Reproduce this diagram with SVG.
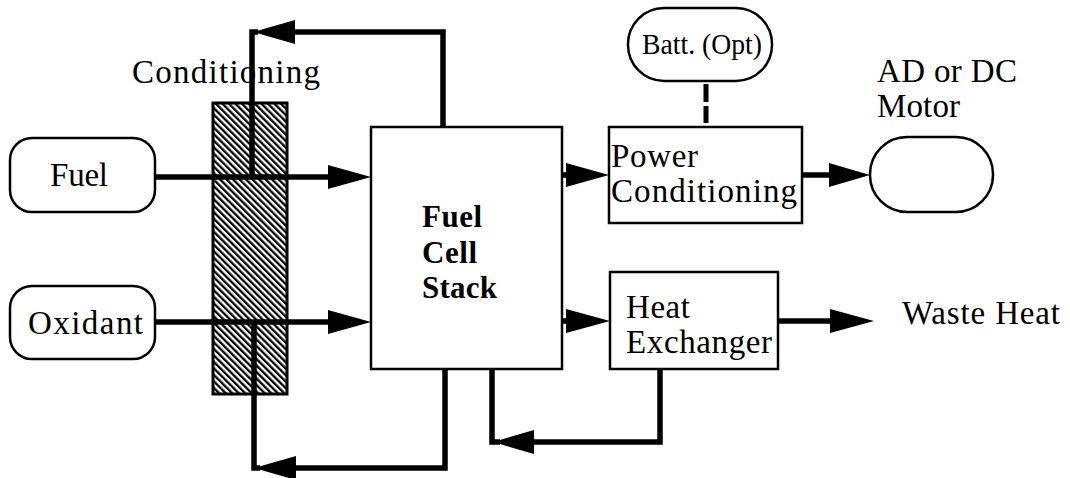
<svg xmlns="http://www.w3.org/2000/svg" width="1070" height="478" viewBox="0 0 1070 478">
<style>
.box{fill:#fff;stroke:#000;stroke-width:2.5}
.t{font-family:"Liberation Serif","Times New Roman",serif;font-size:33px;fill:#000}
.s{font-size:30px}
.b{font-weight:bold;font-size:31px}
.ln{fill:none;stroke:#000;stroke-width:5.5;stroke-linejoin:miter;stroke-linecap:butt}
.ah{fill:#000}
</style>
<defs>
<pattern id="hatch" patternUnits="userSpaceOnUse" width="4.6" height="4.6" patternTransform="rotate(-45)">
<rect width="4.6" height="4.6" fill="#fff"/>
<rect x="0" y="0" width="2.3" height="4.6" fill="#000"/>
</pattern>
</defs>
<rect width="1070" height="478" fill="#fff"/>

<g id="conditioning">
<rect x="213" y="103" width="74" height="291" fill="url(#hatch)" stroke="#000" stroke-width="3"/>
<text class="t" x="132" y="83" textLength="188" lengthAdjust="spacing">Conditioning</text>
</g>

<g id="connectors">
<polyline class="ln" points="443,128 443,32 290,32"/>
<polyline class="ln" points="252,177 252,32 258,32"/>
<polygon class="ah" points="253,32 295,20 295,44"/>
<line class="ln" x1="155" y1="177" x2="335" y2="177"/>
<polygon class="ah" points="371,177 328,165 328,189"/>
<line class="ln" x1="155" y1="322" x2="335" y2="322"/>
<polygon class="ah" points="371,322 328,310 328,334"/>
<polyline class="ln" points="445,369 445,468 290,468"/>
<polyline class="ln" points="254,322 254,468 260,468"/>
<polygon class="ah" points="254,468 296,456 296,480"/>
<polyline class="ln" points="660,368 660,442 525,442"/>
<polyline class="ln" points="492,369 492,442 500,442"/>
<polygon class="ah" points="493,442 534,430 534,454"/>
<line class="ln" x1="562" y1="175" x2="570" y2="175"/>
<polygon class="ah" points="609,175 566,163 566,187"/>
<line class="ln" x1="562" y1="321" x2="570" y2="321"/>
<polygon class="ah" points="610,321 566,309 566,333"/>
<line class="ln" x1="802" y1="175" x2="835" y2="175"/>
<polygon class="ah" points="870,175 829,163 829,187"/>
<line class="ln" x1="778" y1="321" x2="835" y2="321"/>
<polygon class="ah" points="874,321 830,309 830,333"/>
<line x1="706" y1="84" x2="706" y2="123" stroke="#000" stroke-width="5" stroke-dasharray="18 4"/>
</g>

<g id="fuel">
<rect class="box" x="10" y="138" width="145" height="74" rx="22" ry="22"/>
<text class="t" x="50" y="186" textLength="58" lengthAdjust="spacing">Fuel</text>
</g>

<g id="oxidant">
<rect class="box" x="10" y="286" width="145" height="73" rx="22" ry="22"/>
<text class="t" x="28" y="334" textLength="115" lengthAdjust="spacing">Oxidant</text>
</g>

<g id="stack">
<rect class="box" x="371" y="127" width="191" height="242"/>
<text class="t b" x="422" y="227" textLength="60" lengthAdjust="spacing">Fuel</text>
<text class="t b" x="422" y="263" textLength="55" lengthAdjust="spacing">Cell</text>
<text class="t b" x="422" y="298" textLength="75" lengthAdjust="spacing">Stack</text>
</g>

<g id="battery">
<rect class="box" x="628" y="8" width="144" height="73" rx="36" ry="36"/>
<text class="t s" x="642" y="54" textLength="120" lengthAdjust="spacingAndGlyphs">Batt. (Opt)</text>
</g>

<g id="power-conditioning">
<rect class="box" x="609" y="127" width="193" height="96"/>
<text class="t" x="611" y="167" textLength="87" lengthAdjust="spacing">Power</text>
<text class="t" x="611" y="202" textLength="186" lengthAdjust="spacing">Conditioning</text>
</g>

<g id="motor">
<rect class="box" x="870" y="137" width="123" height="75" rx="37" ry="37"/>
<text class="t" x="877" y="82" textLength="140" lengthAdjust="spacing">AD or DC</text>
<text class="t" x="877" y="117" textLength="83" lengthAdjust="spacing">Motor</text>
</g>

<g id="heat-exchanger">
<rect class="box" x="610" y="272" width="168" height="97"/>
<text class="t" x="626" y="318" textLength="64" lengthAdjust="spacing">Heat</text>
<text class="t" x="626" y="353" textLength="146" lengthAdjust="spacing">Exchanger</text>
</g>

<g id="waste-heat">
<text class="t" x="902" y="324" textLength="158" lengthAdjust="spacing">Waste Heat</text>
</g>
</svg>
